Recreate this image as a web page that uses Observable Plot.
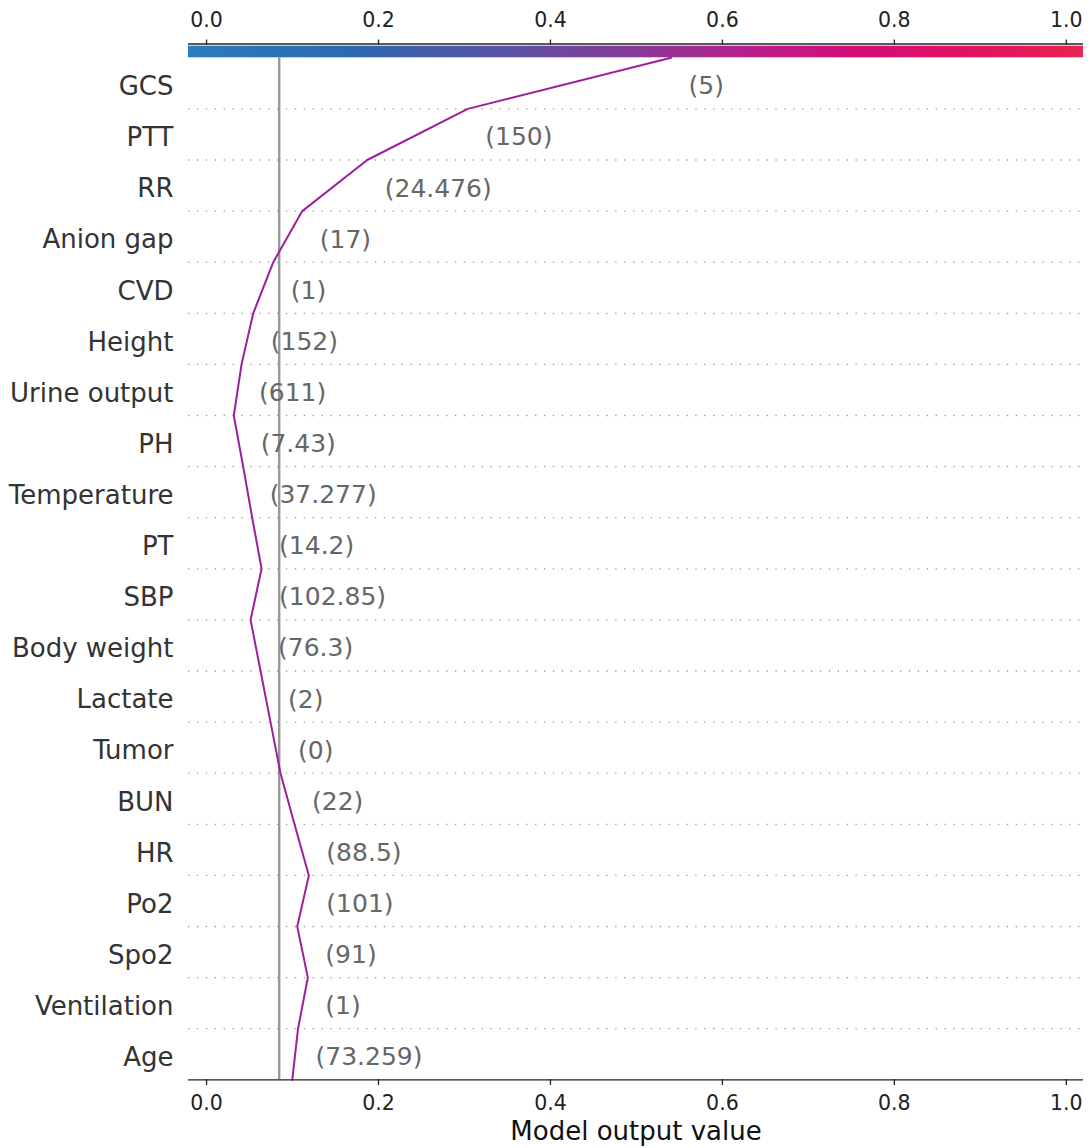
<!DOCTYPE html>
<html>
<head>
<meta charset="utf-8">
<script src="https://cdn.jsdelivr.net/npm/d3@7"></script>
<script src="https://cdn.jsdelivr.net/npm/@observablehq/plot@0.6"></script>
<style>
  html, body { margin: 0; padding: 0; background: #fff; }
  #chart svg { display: block; }
</style>
</head>
<body>
<div id="chart"></div>
<script>
// Features in display order, top to bottom
const features = [
  "GCS", "PTT", "RR", "Anion gap", "CVD", "Height", "Urine output", "PH",
  "Temperature", "PT", "SBP", "Body weight", "Lactate", "Tumor", "BUN", "HR",
  "Po2", "Spo2", "Ventilation", "Age"
];

// Observed feature values shown beside the decision path
const featureValues = [
  "5", "150", "24.476", "17", "1", "152", "611", "7.43",
  "37.277", "14.2", "102.85", "76.3", "2", "0", "22", "88.5",
  "101", "91", "1", "73.259"
];

// Cumulative model output at each row boundary, from the bottom edge up to the top edge
const outputPath = [
  0.0997, 0.1064, 0.1178, 0.1055, 0.1190, 0.1023, 0.0860, 0.0744, 0.0628, 0.0512,
  0.0640, 0.0531, 0.0426, 0.0317, 0.0407, 0.0543, 0.0776, 0.1113, 0.1869, 0.3038,
  0.5403
];

const baseValue = 0.0845;
const xTicks = [0.0, 0.2, 0.4, 0.6, 0.8, 1.0];
const xDomain = [-0.021, 1.02];

// Colour bar stops (offset along the x extent, colour)
const barOffsets = [0.00, 0.18, 0.35, 0.50, 0.62, 0.75, 0.88, 1.00];
const barColors  = ["#2b7cc0", "#2c69b0", "#5a54a7", "#883996", "#b4208c", "#d40e78", "#e01360", "#e6264f"];

const n = features.length;

// One record per row; row 0 is the bottom row
const rows = features.map((name, i) => {
  const row = n - 1 - i;
  return {
    name,
    label: `(${featureValues[i]})`,
    row,
    x: Math.max(outputPath[row], outputPath[row + 1])
  };
});

const path = outputPath.map((v, k) => ({k, v}));
const rowCenters = rows.map(r => r.row + 0.5);
const nameAt = new Map(rows.map(r => [r.row + 0.5, r.name]));

const ink = "#222";

const chart = Plot.plot({
  width: 1091,
  height: 1148,
  marginLeft: 188,
  marginRight: 8,
  marginTop: 43.5,
  marginBottom: 69,
  style: {fontFamily: "'DejaVu Sans', sans-serif", background: "#fff", overflow: "visible"},
  x: {domain: xDomain},
  y: {domain: [0, n], range: [1079.3, 57.3]},
  marks: [
    // dotted row separators
    Plot.ruleY(d3.range(1, n), {stroke: "#9a9a9a", strokeWidth: 1.3, strokeDasharray: "1.3,7.6"}),
    // colour bar along the top
    Plot.rect([0], {x1: xDomain[0], x2: xDomain[1], y1: n, y2: n, insetTop: -11.6, fill: "url(#outputGradient)"}),
    Plot.ruleY([n], {dy: -13.8, stroke: ink, strokeWidth: 1.3}),
    // base value
    Plot.ruleX([baseValue], {y1: 0, y2: n, stroke: "#999", strokeWidth: 2.4}),
    // decision path
    Plot.line(path, {x: "v", y: "k", stroke: "#9c1f9f", strokeWidth: 2}),
    // feature value annotations
    Plot.text(rows, {
      x: "x", y: d => d.row + 0.5, text: "label",
      textAnchor: "start", dx: 17.5, dy: 3,
      fontSize: 25, fill: "#666"
    }),
    // feature names
    Plot.axisY(rowCenters, {
      tickSize: 0, tickPadding: 15, tickFormat: d => nameAt.get(d),
      fontSize: 26, fill: "#333", dy: 3.5, label: null
    }),
    // bottom axis
    Plot.ruleY([0], {stroke: ink, strokeWidth: 1.3}),
    Plot.axisX(xTicks, {
      anchor: "bottom", tickSize: 6, tickPadding: 10, tickFormat: d3.format(".1f"),
      fontSize: 20.5, stroke: ink, fill: ink, strokeWidth: 1.3, label: null
    }),
    // top axis above the colour bar
    Plot.axisX(xTicks, {
      anchor: "top", tickSize: 5, tickPadding: 12, tickFormat: d3.format(".1f"),
      fontSize: 20.5, stroke: ink, fill: ink, strokeWidth: 1.3, label: null
    }),
    Plot.text(["Model output value"], {
      frameAnchor: "bottom", dy: 52, lineAnchor: "middle",
      fontSize: 26, fill: "#111"
    })
  ]
});

// gradient definition used by the colour bar
const svg = d3.select(chart);
const grad = svg.insert("defs", ":first-child")
  .append("linearGradient")
  .attr("id", "outputGradient")
  .attr("x1", "0").attr("x2", "1").attr("y1", "0").attr("y2", "0");
barOffsets.forEach((o, i) => {
  grad.append("stop").attr("offset", o).attr("stop-color", barColors[i]);
});

document.getElementById("chart").append(chart);
</script>
</body>
</html>
